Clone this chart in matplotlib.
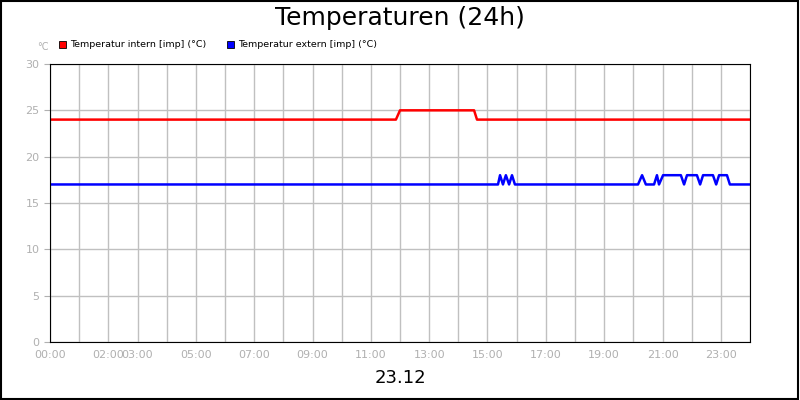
import matplotlib
matplotlib.use("Agg")
import matplotlib.pyplot as plt
from matplotlib.patches import Rectangle

# hours since 00:00
intern_t = [0, 11.86, 12.0, 14.54, 14.64, 24]
intern_v = [24, 24, 25, 25, 24, 24]

extern_t = [0, 15.36, 15.43, 15.53, 15.63, 15.74, 15.84, 15.94,
            20.16, 20.30, 20.43, 20.71, 20.81, 20.88, 21.02, 21.63, 21.74,
            21.84, 22.18, 22.29, 22.39, 22.73, 22.84, 22.94, 23.21, 23.31, 24]
extern_v = [17, 17, 18, 17, 18, 17, 18, 17,
            17, 18, 17, 17, 18, 17, 18, 18, 17,
            18, 18, 17, 18, 18, 17, 18, 18, 17, 17]

tick_hours = [0, 2, 3, 5, 7, 9, 11, 13, 15, 17, 19, 21, 23]
y_ticks = [0, 5, 10, 15, 20, 25, 30]

LABEL = "#b0b0b0"

fig = plt.figure(figsize=(8, 4), dpi=100)
fig.patch.set_facecolor("white")
fig.patches.append(Rectangle((0.001, 0.002), 0.997, 0.995, transform=fig.transFigure,
                             fill=False, ec="black", lw=1.5))
ax = fig.add_axes([0.0625, 0.145, 0.875, 0.695])

ax.plot(intern_t, intern_v, color="#ff0000", lw=1.8)
ax.plot(extern_t, extern_v, color="#0000ff", lw=1.8)

ax.set_xlim(0, 24)
ax.set_ylim(0, 30)
ax.set_xticks(range(25))
ax.set_xticklabels(["%02d:00" % h if h in tick_hours else "" for h in range(25)])
ax.set_yticks(y_ticks)
ax.grid(True, color="#c0c0c0", lw=1)
ax.set_axisbelow(True)
ax.tick_params(axis="x", length=0, labelsize=8, labelcolor=LABEL, pad=6)
ax.tick_params(axis="y", length=4, color=LABEL, labelsize=8, labelcolor=LABEL)
for s in ax.spines.values():
    s.set_color("black")

fig.text(0.5, 0.955, "Temperaturen (24h)", ha="center", va="center", fontsize=18)
fig.text(0.5, 0.055, "23.12", ha="center", va="center", fontsize=13)
fig.text(0.046, 0.882, "°C", ha="left", va="center", fontsize=7, color=LABEL)

for x0, col, label in [(0.074, "#ff0000", "Temperatur intern [imp] (°C)"),
                       (0.284, "#0000ff", "Temperatur extern [imp] (°C)")]:
    fig.patches.append(Rectangle((x0, 0.879), 0.009, 0.018, transform=fig.transFigure,
                                 fc=col, ec="black", lw=0.6))
    fig.text(x0 + 0.014, 0.888, label, ha="left", va="center", fontsize=6.8)

fig.savefig("out.png")
